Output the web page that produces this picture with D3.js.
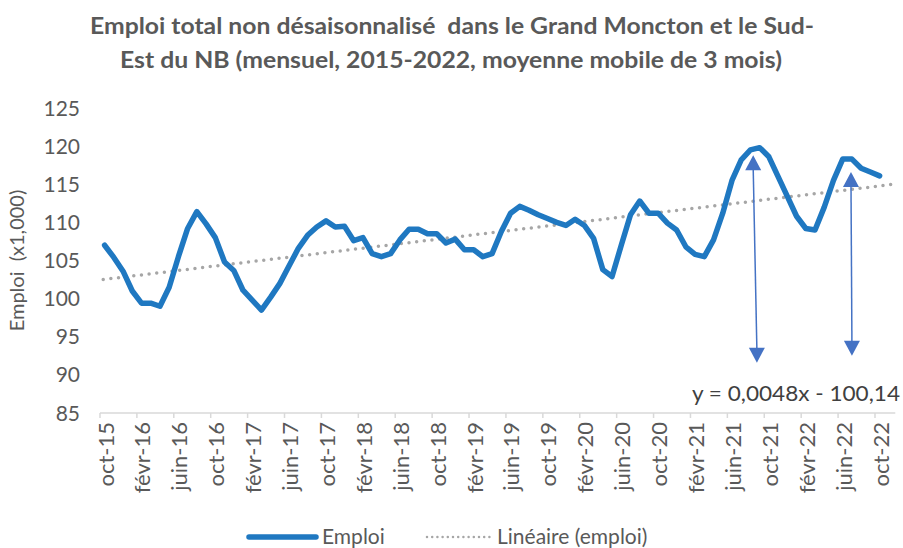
<!DOCTYPE html>
<html>
<head>
<meta charset="utf-8">
<script src="https://cdn.jsdelivr.net/npm/d3@7"></script>
<style>
  body { margin: 0; background: #fff; }
  text { font-family: Lato, "Open Sans", sans-serif; fill: #595959; white-space: pre; }
</style>
</head>
<body>
<div id="chart"></div>
<script>

// monthly values, oct-15 .. oct-22 (3-month moving average, x1,000)
const emploi = [
    107.0, 105.4, 103.6, 101.0, 99.4, 99.4, 99.0, 101.5, 105.5, 109.2, 111.4, 109.8,
    108.0, 104.8, 103.7, 101.1, 99.8, 98.5, 100.2, 102.0, 104.3, 106.6, 108.3, 109.4,
    110.2, 109.4, 109.5, 107.6, 108.0, 105.9, 105.5, 105.9, 107.7, 109.1, 109.1, 108.5,
    108.5, 107.3, 107.8, 106.4, 106.4, 105.5, 105.9, 108.8, 111.2, 112.1, 111.6, 111.0,
    110.5, 110.0, 109.6, 110.4, 109.6, 107.9, 103.8, 102.9, 107.0, 111.0, 112.8, 111.2,
    111.2, 109.9, 109.0, 106.8, 105.8, 105.5, 107.7, 111.2, 115.5, 118.2, 119.5, 119.8,
    118.6, 116.0, 113.4, 110.8, 109.2, 109.0, 112.0, 115.5, 118.3, 118.3, 117.1, 116.6,
    116.1
]

const tickLabels = ['oct-15', 'févr-16', 'juin-16', 'oct-16', 'févr-17', 'juin-17', 'oct-17',
    'févr-18', 'juin-18', 'oct-18', 'févr-19', 'juin-19', 'oct-19', 'févr-20', 'juin-20',
    'oct-20', 'févr-21', 'juin-21', 'oct-21', 'févr-22', 'juin-22', 'oct-22']

const yTicks = [85, 90, 95, 100, 105, 110, 115, 120, 125]

// double arrows drawn on the chart (month index, top value, bottom value)
const arrows = [
    { mTop: 70.3, mBottom: 70.7, top: 118.8, bottom: 91.6 },
    { mTop: 80.9, mBottom: 81.0, top: 116.6, bottom: 92.5 }
]

const equation = 'y = 0,0048x - 100,14'

const width = 903;
const height = 548;

const svg = d3.select('#chart')
    .append('svg')
    .attr('width', width)
    .attr('height', height);

const x = d3.scaleLinear()
    .domain([0, 84])
    .range([104.6, 879.6]);

const y = d3.scaleLinear()
    .domain([85, 125])
    .range([413, 108]);

// title
const title = svg.append('g')
    .attr('font-weight', 'bold')
    .attr('font-size', 22)
    .attr('text-anchor', 'middle');

title.append('text')
    .attr('x', 452).attr('y', 34)
    .attr('textLength', 724).attr('lengthAdjust', 'spacingAndGlyphs')
    .text('Emploi total non désaisonnalisé  dans le Grand Moncton et le Sud-');

title.append('text')
    .attr('x', 451).attr('y', 68)
    .attr('textLength', 662).attr('lengthAdjust', 'spacingAndGlyphs')
    .text('Est du NB (mensuel, 2015-2022, moyenne mobile de 3 mois)');

// y axis labels
svg.append('g')
    .selectAll('text')
    .data(yTicks)
    .join('text')
    .attr('x', 80)
    .attr('y', (d) => y(d))
    .attr('dy', '0.36em')
    .attr('text-anchor', 'end')
    .attr('font-size', 21)
    .text((d) => d);

svg.append('text')
    .attr('transform', `translate(24, ${y(105)}) rotate(-90)`)
    .attr('text-anchor', 'middle')
    .attr('font-size', 20)
    .text('Emploi  (x1,000)');

// x axis
svg.append('line')
    .attr('x1', x(-0.5)).attr('x2', x(85.7))
    .attr('y1', y(85)).attr('y2', y(85))
    .attr('stroke', '#d9d9d9')
    .attr('stroke-width', 1.5);

svg.append('g')
    .selectAll('line')
    .data(tickLabels)
    .join('line')
    .attr('x1', (d, i) => x(i * 4 - 0.5))
    .attr('x2', (d, i) => x(i * 4 - 0.5))
    .attr('y1', y(85))
    .attr('y2', y(85) + 5)
    .attr('stroke', '#d9d9d9')
    .attr('stroke-width', 1.5);

svg.append('g')
    .selectAll('text')
    .data(tickLabels)
    .join('text')
    .attr('transform', (d, i) => `translate(${x(i * 4) + 1}, ${y(85) + 9}) rotate(-90)`)
    .attr('text-anchor', 'end')
    .attr('dy', '0.36em')
    .attr('font-size', 22)
    .text((d) => d);

// linear trend (least squares on the series)
const mx = d3.mean(emploi, (d, i) => i)
const my = d3.mean(emploi)
const slope = d3.sum(emploi, (d, i) => (i - mx) * (d - my)) / d3.sum(emploi, (d, i) => (i - mx) * (i - mx))
const icpt = my - slope * mx

svg.append('line')
    .attr('x1', x(-0.15)).attr('y1', y(icpt + slope * -0.15))
    .attr('x2', x(85.4)).attr('y2', y(icpt + slope * 85.4))
    .attr('stroke', '#a6a6a6')
    .attr('stroke-width', 3.5)
    .attr('stroke-linecap', 'round')
    .attr('stroke-dasharray', '0 7.7');

// main line
const line = d3.line()
    .x((d, i) => x(i))
    .y((d) => y(d));

svg.append('path')
    .datum(emploi)
    .attr('d', line)
    .attr('fill', 'none')
    .attr('stroke', '#1f78c1')
    .attr('stroke-width', 5.5)
    .attr('stroke-linejoin', 'round')
    .attr('stroke-linecap', 'round');

// arrows
const arrowColor = '#4472c4'
const headL = 15
const headW = 8

arrows.forEach((a) => {
    const x1 = x(a.mTop), y1 = y(a.top)
    const x2 = x(a.mBottom), y2 = y(a.bottom)
    const g = svg.append('g')
    g.append('line')
        .attr('x1', x1).attr('y1', y1 + headL - 2)
        .attr('x2', x2).attr('y2', y2 - headL + 2)
        .attr('stroke', arrowColor)
        .attr('stroke-width', 1.5);
    g.append('path')
        .attr('d', `M${x1},${y1}L${x1 - headW},${y1 + headL}L${x1 + headW},${y1 + headL}Z`)
        .attr('fill', arrowColor);
    g.append('path')
        .attr('d', `M${x2},${y2}L${x2 - headW},${y2 - headL}L${x2 + headW},${y2 - headL}Z`)
        .attr('fill', arrowColor);
})

// equation
svg.append('text')
    .attr('x', 900).attr('y', 401)
    .attr('text-anchor', 'end')
    .attr('font-size', 21)
    .attr('textLength', 208).attr('lengthAdjust', 'spacingAndGlyphs')
    .style('fill', '#404040')
    .text(equation);

// legend
const legend = svg.append('g').attr('font-size', 21);

legend.append('line')
    .attr('x1', 249).attr('x2', 316)
    .attr('y1', 537).attr('y2', 537)
    .attr('stroke', '#1f78c1')
    .attr('stroke-width', 5.5)
    .attr('stroke-linecap', 'round');

legend.append('text')
    .attr('x', 322).attr('y', 544)
    .text('Emploi');

legend.append('line')
    .attr('x1', 427).attr('x2', 490)
    .attr('y1', 537).attr('y2', 537)
    .attr('stroke', '#a6a6a6')
    .attr('stroke-width', 2.5)
    .attr('stroke-linecap', 'round')
    .attr('stroke-dasharray', '0 5.2');

legend.append('text')
    .attr('x', 497).attr('y', 544)
    .text('Linéaire (emploi)');

</script>
</body>
</html>
